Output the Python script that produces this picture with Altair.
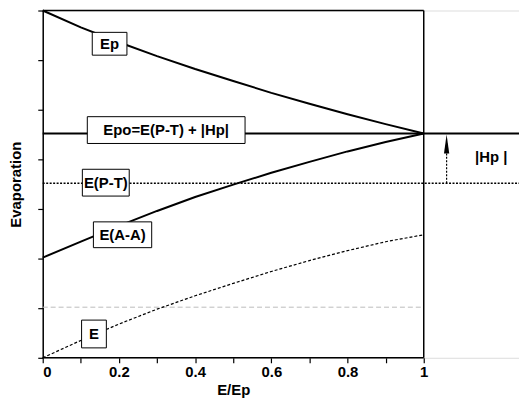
import altair as alt
import pandas as pd

# ---- data ----
x_vals = [0.0, 0.1, 0.2, 0.3, 0.4, 0.5, 0.6, 0.7, 0.8, 0.9, 1.0]
ep_vals = [7.0, 6.66, 6.36, 6.08, 5.82, 5.58, 5.34, 5.12, 4.91, 4.71, 4.52]
eaa_vals = [2.02, 2.34, 2.66, 2.96, 3.24, 3.49, 3.73, 3.95, 4.16, 4.35, 4.52]
e_vals = [0.0, 0.35, 0.68, 0.98, 1.25, 1.50, 1.74, 1.96, 2.16, 2.34, 2.48]

epo_level = 4.52
ept_level = 3.52
grid_level = 1.02
x_end = 1.25
hp_x = 1.06

label_text = ["Ep", "Epo=E(P-T) + |Hp|", "E(P-T)", "E(A-A)", "E"]
box_x0 = [0.130, 0.117, 0.104, 0.133, 0.102]
box_x1 = [0.221, 0.531, 0.227, 0.286, 0.167]
box_y0 = [6.10, 4.32, 3.26, 2.22, 0.20]
box_y1 = [6.56, 4.86, 3.80, 2.74, 0.76]

hp_label = "|Hp |"
hp_label_x = 1.177
hp_label_y = 4.04

xtick_vals = [0.0, 0.1, 0.2, 0.3, 0.4, 0.5, 0.6, 0.7, 0.8, 0.9, 1.0]
ytick_vals = [0, 1, 2, 3, 4, 5, 6, 7]

FONT = "Liberation Sans"
FS = 15

X = alt.X("x:Q", scale=alt.Scale(domain=[0, x_end], nice=False, zero=False),
          axis=alt.Axis(values=xtick_vals, domain=False, grid=False,
                        labelExpr="round(datum.value*10) % 2 == 0 ? datum.label : ''",
                        format="~g",
                        tickSize=5, tickColor="black", tickWidth=1.2,
                        labelFont=FONT, labelFontWeight="bold", labelFontSize=FS,
                        labelColor="black", labelPadding=2,
                        title="E/Ep", titleFont=FONT, titleFontWeight="bold",
                        titleFontSize=FS, titleColor="black", titleX=192, titlePadding=3))
Y = alt.Y("y:Q", scale=alt.Scale(domain=[0, 7], nice=False, zero=False),
          axis=alt.Axis(values=ytick_vals, labels=False, grid=False,
                        domain=True, domainColor="black", domainWidth=1.5,
                        tickSize=5, tickColor="black", tickWidth=1.2,
                        title="Evaporation", titleFont=FONT, titleFontWeight="bold",
                        titleFontSize=FS, titleColor="black", titlePadding=14))

curves = pd.DataFrame({"x": x_vals * 3,
                       "y": ep_vals + eaa_vals + e_vals,
                       "s": ["Ep"] * 11 + ["EAA"] * 11 + ["E"] * 11})

solid = alt.Chart(curves).transform_filter("datum.s != 'E'").mark_line(
    color="black", strokeWidth=2).encode(x=X, y=Y, detail="s:N")
dotted = alt.Chart(curves).transform_filter("datum.s == 'E'").mark_line(
    color="black", strokeWidth=1.2, strokeDash=[3, 2]).encode(x=X, y=Y)

hlines = pd.DataFrame({"x": [0, 0], "x2": [x_end, x_end], "y": [epo_level, ept_level],
                       "k": ["epo", "ept"]})
epo = alt.Chart(hlines).transform_filter("datum.k == 'epo'").mark_rule(
    color="black", strokeWidth=2).encode(x=X, x2="x2:Q", y=Y)
ept = alt.Chart(hlines).transform_filter("datum.k == 'ept'").mark_rule(
    color="black", strokeWidth=1.5, strokeDash=[2, 1.5]).encode(x=X, x2="x2:Q", y=Y)

grid = alt.Chart(pd.DataFrame({"x": [0], "x2": [1.0], "y": [grid_level]})).mark_rule(
    color="#bbbbbb", strokeWidth=1, strokeDash=[5, 3]).encode(x=X, x2="x2:Q", y=Y)

frame_df = pd.DataFrame({"x": [0, 0, 1.0], "x2": [1.0, 1.0, 1.0],
                         "y": [0, 7, 0], "y2": [0, 7, 7]})
frame = alt.Chart(frame_df).mark_rule(color="black", strokeWidth=1.5).encode(
    x=X, x2="x2:Q", y=Y, y2="y2:Q")

stem = alt.Chart(pd.DataFrame({"x": [hp_x], "y": [ept_level], "y2": [4.36]})).mark_rule(
    color="black", strokeWidth=1.2, strokeDash=[2, 1.5]).encode(x=X, y=Y, y2="y2:Q")
head = alt.Chart(pd.DataFrame({"x": [hp_x], "y": [4.31]})).mark_point(
    shape="M0,-1L0.28,1L-0.28,1Z", filled=True, color="black", size=361, opacity=1).encode(x=X, y=Y)
hp_text = alt.Chart(pd.DataFrame({"x": [hp_label_x], "y": [hp_label_y], "t": [hp_label]})).mark_text(
    font=FONT, fontWeight="bold", fontSize=FS, color="black").encode(x=X, y=Y, text="t:N")

boxes_df = pd.DataFrame({"x": box_x0, "x2": box_x1, "y": box_y0, "y2": box_y1, "t": label_text})
boxes_df["xc"] = (boxes_df["x"] + boxes_df["x2"]) / 2
boxes_df["yc"] = (boxes_df["y"] + boxes_df["y2"]) / 2
boxes = alt.Chart(boxes_df).mark_rect(fill="white", stroke="black", strokeWidth=1).encode(
    x=X, x2="x2:Q", y=Y, y2="y2:Q")
texts = alt.Chart(boxes_df).mark_text(font=FONT, fontWeight="bold", fontSize=FS,
                                       color="black").encode(
    x=alt.X("xc:Q", scale=alt.Scale(domain=[0, x_end], nice=False, zero=False)),
    y=alt.Y("yc:Q", scale=alt.Scale(domain=[0, 7], nice=False, zero=False)),
    text="t:N")

chart = alt.layer(grid, dotted, ept, solid, epo, frame, stem, head, hp_text, boxes, texts).properties(
    width=480, height=350,
    autosize=alt.AutoSizeParams(type="none"),
    padding={"left": 35, "top": 1, "right": 0, "bottom": 42},
).configure_view(stroke=None).configure(background="white")

chart.save("out.html", embed_options={"renderer": "svg", "actions": False})
